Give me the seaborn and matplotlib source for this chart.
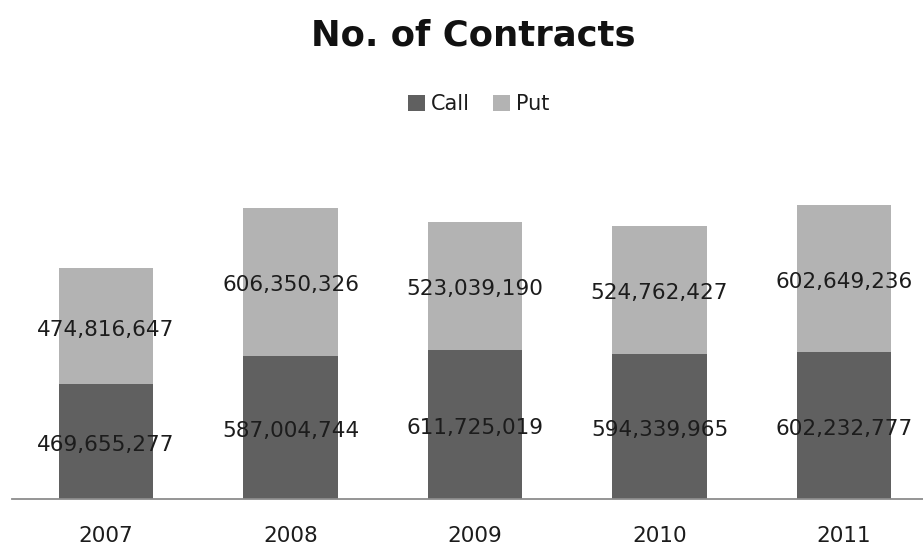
import matplotlib
matplotlib.use("Agg")
import matplotlib.pyplot as plt
from matplotlib.patches import Patch
import pandas as pd
import seaborn as sns

years = ["2007", "2008", "2009", "2010", "2011"]
call_contracts = [469655277, 587004744, 611725019, 594339965, 602232777]
put_contracts = [474816647, 606350326, 523039190, 524762427, 602649236]

call_color = "#606060"
put_color = "#b3b3b3"
text_color = "#1c1c1c"

df = pd.DataFrame({"year": years, "Call": call_contracts, "Put": put_contracts})
df["Total"] = df["Call"] + df["Put"]

sns.set_theme(style="white")
plt.rcParams["font.family"] = ["DejaVu Sans"]

W, H = 923, 548
fig = plt.figure(figsize=(W / 100, H / 100), dpi=100)
ax = fig.add_axes([12 / W, (H - 499) / H, (W - 12) / W, (499 - 190) / H])

# Stacked bars: the full height (Put on top) first, then Call over the lower part
sns.barplot(data=df, x="year", y="Total", color=put_color, width=0.51,
            saturation=1, ax=ax, edgecolor="none")
sns.barplot(data=df, x="year", y="Call", color=call_color, width=0.51,
            saturation=1, ax=ax, edgecolor="none")

ax.set_xlim(-0.5095, 4.428)
ax.set_ylim(0, 1265.4e6)

# Segment value labels
for i, (c, p) in enumerate(zip(call_contracts, put_contracts)):
    for y, v in ((c / 2, c), (c + p / 2, p)):
        ax.annotate(f"{v:,}", xy=(i, y), xytext=(0, -2.5), textcoords="offset points",
                    ha="center", va="center", fontsize=15.5, color=text_color)

for side in ("top", "right", "left"):
    ax.spines[side].set_visible(False)
ax.spines["bottom"].set_color("#8c8c8c")
ax.spines["bottom"].set_linewidth(1.3)
ax.set_yticks([])
ax.set_xlabel("")
ax.set_ylabel("")
ax.tick_params(axis="x", length=0, pad=19.5, labelsize=15.5, labelcolor=text_color)

fig.text(473 / W, 1 - 35 / H, "No. of Contracts", ha="center", va="center",
         fontsize=25.5, fontweight="bold", color="#111111")

handles = [Patch(facecolor=call_color, edgecolor="none", label="Call"),
           Patch(facecolor=put_color, edgecolor="none", label="Put")]
fig.legend(handles=handles, loc="center", bbox_to_anchor=(479 / W, 1 - 104 / H),
           ncol=2, frameon=False, fontsize=15, handlelength=0.8,
           handleheight=0.8, handletextpad=0.3, columnspacing=1.1,
           labelcolor=text_color)

fig.savefig("out.png", dpi=100)
